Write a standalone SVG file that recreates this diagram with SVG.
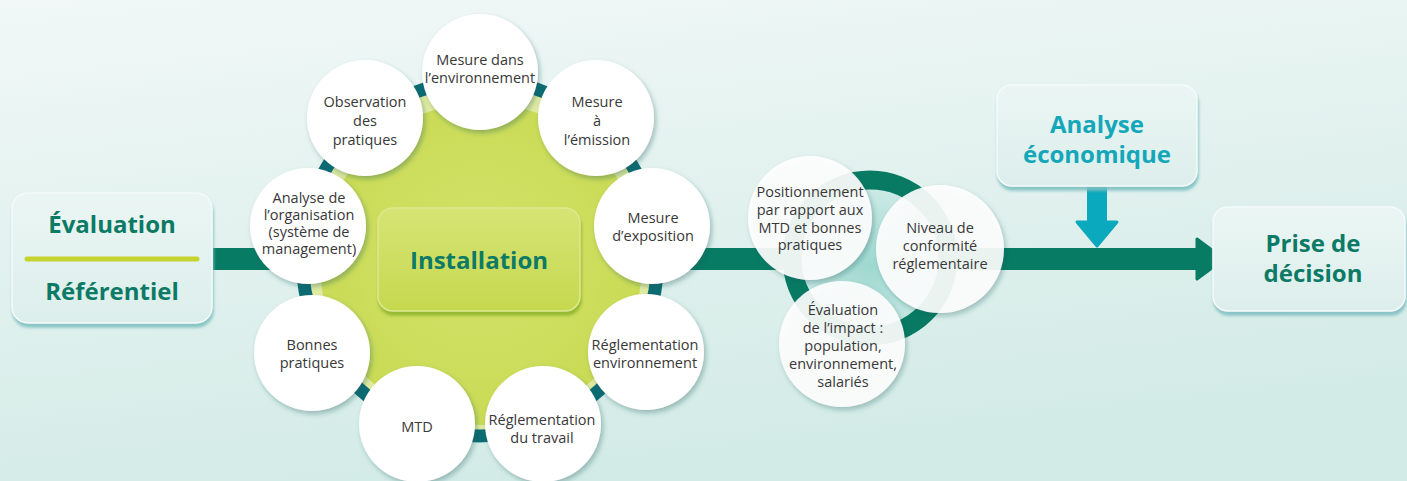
<svg xmlns="http://www.w3.org/2000/svg" width="1407" height="481" viewBox="0 0 1407 481">
<defs>
<linearGradient id="bg" x1="0" y1="0" x2="0.3" y2="1">
<stop offset="0" stop-color="#f1f8f7"/>
<stop offset="1" stop-color="#d3ebe6"/>
</linearGradient>
<linearGradient id="boxfill" x1="0" y1="0" x2="0" y2="1">
<stop offset="0" stop-color="#ebf6f4"/>
<stop offset="1" stop-color="#dceeeb"/>
</linearGradient>
<linearGradient id="instfill" x1="0" y1="0" x2="0" y2="1">
<stop offset="0" stop-color="#d6e474"/>
<stop offset="1" stop-color="#c6d84f"/>
</linearGradient>
<radialGradient id="limefill" cx="0.5" cy="0.5" r="0.5">
<stop offset="0" stop-color="#d3e26a"/>
<stop offset="1" stop-color="#c9da54"/>
</radialGradient>
<radialGradient id="ringin" cx="0.5" cy="0.55" r="0.5">
<stop offset="0" stop-color="#9ed8d0"/>
<stop offset="1" stop-color="#cdeae6"/>
</radialGradient>
<filter id="sh" x="-20%" y="-20%" width="140%" height="140%">
<feDropShadow dx="2" dy="3" stdDeviation="2.5" flood-color="#1d5a5a" flood-opacity="0.35"/>
</filter>
<filter id="boxsh" x="-10%" y="-10%" width="125%" height="130%">
<feDropShadow dx="1" dy="4" stdDeviation="1.5" flood-color="#7fc0c2" flood-opacity="0.9"/>
</filter>
<filter id="instsh" x="-10%" y="-10%" width="125%" height="130%">
<feDropShadow dx="1" dy="4" stdDeviation="1.5" flood-color="#8fb52f" flood-opacity="0.9"/>
</filter>
<style>
.title{font-family:"Open Sans","Liberation Sans",sans-serif;font-weight:700;font-size:24px;text-anchor:middle;fill:#0c7a65}
.cyan{fill:#14a7ba}
.lbl{font-family:"Open Sans","Liberation Sans",sans-serif;font-size:14.5px;text-anchor:middle;fill:#383838}
.circ{fill:#ffffff;filter:url(#sh)}
.circt{fill:#ffffff;fill-opacity:0.9;filter:url(#sh)}
.box{fill:url(#boxfill);stroke:#f4fbfa;stroke-width:1.5;filter:url(#boxsh)}
</style>
</defs>
<rect width="1407" height="481" fill="url(#bg)"/>

<g id="connectors">
<rect x="213" y="248" width="986" height="22" fill="#077b63"/>
<polygon points="1197,239 1224,259 1197,279" fill="#077b63" stroke="#077b63" stroke-width="3" stroke-linejoin="round"/>
<rect x="1087" y="186" width="20" height="36" fill="#0aa9bd"/>
<polygon points="1077,222 1117,222 1097,246" fill="#0aa9bd" stroke="#0aa9bd" stroke-width="3" stroke-linejoin="round"/>
</g>

<g id="evaluation">
<rect class="box" x="12" y="193" width="200" height="130" rx="16"/>
<text class="title" x="112" y="233">Évaluation</text>
<line x1="27" y1="259" x2="197" y2="259" stroke="#c6d32e" stroke-width="5" stroke-linecap="round"/>
<text class="title" x="112" y="300">Référentiel</text>
</g>

<g id="installation">
<circle cx="480" cy="258" r="177" fill="url(#limefill)"/>
<circle cx="481" cy="264" r="170" fill="none" stroke="#ffffff" stroke-opacity="0.45" stroke-width="18"/>
<circle cx="480" cy="258" r="178" fill="none" stroke="#0c6b73" stroke-width="13"/>
<rect x="378" y="208" width="202" height="103" rx="15" fill="url(#instfill)" stroke="#dde98f" stroke-width="1.5" filter="url(#instsh)"/>
<text class="title" x="479" y="269">Installation</text>
</g>

<g id="mesure-environnement">
<circle class="circ" cx="480" cy="72" r="58"/>
<text class="lbl" x="480" y="65">Mesure dans</text>
<text class="lbl" x="480" y="83">l’environnement</text>
</g>
<g id="mesure-emission">
<circle class="circ" cx="596" cy="118" r="58"/>
<text class="lbl" x="597" y="107">Mesure</text>
<text class="lbl" x="597" y="126">à</text>
<text class="lbl" x="597" y="145">l’émission</text>
</g>
<g id="mesure-exposition">
<circle class="circ" cx="652" cy="226" r="58"/>
<text class="lbl" x="653" y="223">Mesure</text>
<text class="lbl" x="653" y="241">d’exposition</text>
</g>
<g id="reglementation-environnement">
<circle class="circ" cx="646" cy="352" r="58"/>
<text class="lbl" x="645" y="350">Réglementation</text>
<text class="lbl" x="645" y="368">environnement</text>
</g>
<g id="reglementation-travail">
<circle class="circ" cx="543" cy="424" r="58"/>
<text class="lbl" x="542" y="425">Réglementation</text>
<text class="lbl" x="542" y="443">du travail</text>
</g>
<g id="mtd">
<circle class="circ" cx="417" cy="424" r="58"/>
<text class="lbl" x="417" y="432">MTD</text>
</g>
<g id="bonnes-pratiques">
<circle class="circ" cx="312" cy="353" r="58"/>
<text class="lbl" x="312" y="350">Bonnes</text>
<text class="lbl" x="312" y="368">pratiques</text>
</g>
<g id="analyse-organisation">
<circle class="circ" cx="308" cy="226" r="58"/>
<text class="lbl" x="309" y="203">Analyse de</text>
<text class="lbl" x="309" y="220">l’organisation</text>
<text class="lbl" x="309" y="237">(système de</text>
<text class="lbl" x="309" y="254">management)</text>
</g>
<g id="observation-pratiques">
<circle class="circ" cx="365" cy="118" r="58"/>
<text class="lbl" x="365" y="107">Observation</text>
<text class="lbl" x="365" y="126">des</text>
<text class="lbl" x="365" y="145">pratiques</text>
</g>

<g id="bilan-ring">
<circle cx="870" cy="258" r="78" fill="url(#ringin)" stroke="#087a63" stroke-width="19"/>
</g>
<g id="positionnement">
<circle class="circt" cx="810" cy="218" r="62"/>
<text class="lbl" x="810" y="197">Positionnement</text>
<text class="lbl" x="810" y="215">par rapport aux</text>
<text class="lbl" x="810" y="233">MTD et bonnes</text>
<text class="lbl" x="810" y="250">pratiques</text>
</g>
<g id="evaluation-impact">
<circle class="circt" cx="842" cy="344" r="63"/>
<text class="lbl" x="843" y="315">Évaluation</text>
<text class="lbl" x="843" y="333">de l’impact :</text>
<text class="lbl" x="843" y="351">population,</text>
<text class="lbl" x="843" y="369">environnement,</text>
<text class="lbl" x="843" y="387">salariés</text>
</g>
<g id="niveau-conformite">
<circle class="circt" cx="940" cy="249" r="64"/>
<text class="lbl" x="940" y="233">Niveau de</text>
<text class="lbl" x="940" y="251">conformité</text>
<text class="lbl" x="940" y="269">réglementaire</text>
</g>

<g id="analyse-economique">
<rect class="box" x="997" y="85" width="200" height="101" rx="15"/>
<text class="title cyan" x="1097" y="133">Analyse</text>
<text class="title cyan" x="1097" y="163">économique</text>
</g>

<g id="prise-decision">
<rect class="box" x="1213" y="207" width="192" height="104" rx="15"/>
<text class="title" x="1313" y="252">Prise de</text>
<text class="title" x="1313" y="282">décision</text>
</g>
</svg>
